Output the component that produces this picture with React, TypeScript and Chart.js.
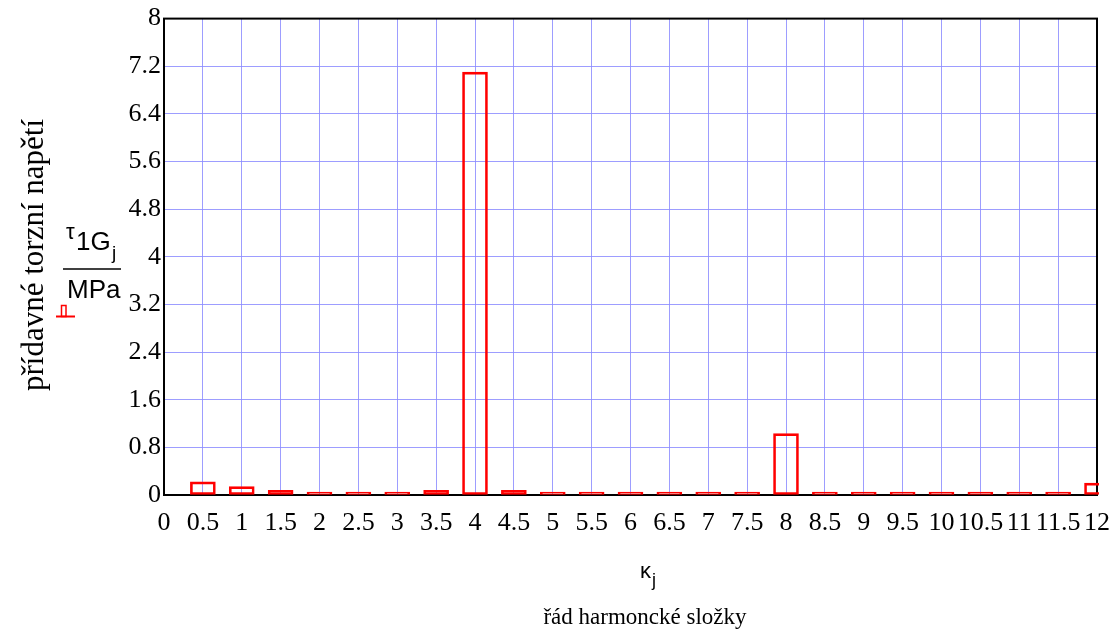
import React, { useEffect, useRef } from "react";
import { Chart, registerables } from "chart.js";

Chart.register(...registerables);

// ---- data ----
const harmonicOrders: number[] = [
  0.5, 1, 1.5, 2, 2.5, 3, 3.5, 4, 4.5, 5, 5.5, 6,
  6.5, 7, 7.5, 8, 8.5, 9, 9.5, 10, 10.5, 11, 11.5, 12,
];
const stressValues: number[] = [
  0.22, 0.14, 0.08, 0, 0, 0, 0.08, 7.1, 0.08, 0.05, 0, 0,
  0, 0, 0, 1.03, 0, 0, 0, 0, 0, 0, 0, 0.2,
];
const xMin = 0;
const xMax = 12;
const xStep = 0.5;
const yMin = 0;
const yMax = 8;
const yStep = 0.8;

const yTitle = "přídavné torzní napětí";
const xTitle = "řád harmoncké složky";
const yVarSymbol = "τ";
const yVarMain = "1G";
const yVarSub = "j";
const yUnit = "MPa";
const xVarSymbol = "κ";
const xVarSub = "j";

const SERIF = "'Liberation Serif', 'DejaVu Serif', serif";
const SANS = "'Liberation Sans', Arial, sans-serif";
const RED = "#ff0000";
const GRID = "rgba(140,140,255,0.85)";

const fmt = (v: any) => String(Math.round(Number(v) * 100) / 100);

const frameAndLabels = {
  id: "frameAndLabels",
  beforeDatasetsDraw(chart: any) {
    const { ctx, chartArea } = chart;
    ctx.save();
    ctx.strokeStyle = "#000";
    ctx.lineWidth = 2;
    ctx.strokeRect(
      chartArea.left,
      chartArea.top,
      chartArea.right - chartArea.left,
      chartArea.bottom - chartArea.top
    );
    ctx.restore();
  },
  afterDraw(chart: any) {
    const { ctx } = chart;
    ctx.save();
    // y title (rotated)
    ctx.fillStyle = "#000";
    ctx.translate(35, 255);
    ctx.rotate(-Math.PI / 2);
    ctx.font = `31px ${SERIF}`;
    ctx.textAlign = "center";
    ctx.textBaseline = "middle";
    ctx.fillText(yTitle, 0, 0);
    ctx.restore();

    ctx.save();
    ctx.fillStyle = "#000";
    ctx.textAlign = "left";
    ctx.textBaseline = "alphabetic";
    ctx.font = `22px ${SANS}`;
    ctx.fillText(yVarSymbol, 66, 239);
    ctx.font = `26px ${SANS}`;
    ctx.fillText(yVarMain, 76, 250);
    ctx.font = `19px ${SANS}`;
    ctx.fillText(yVarSub, 112, 259);
    ctx.strokeStyle = "#000";
    ctx.lineWidth = 1.5;
    ctx.beginPath();
    ctx.moveTo(63, 269);
    ctx.lineTo(121, 269);
    ctx.stroke();
    ctx.font = `26px ${SANS}`;
    ctx.fillText(yUnit, 67, 298);

    // legend symbol
    ctx.strokeStyle = RED;
    ctx.lineWidth = 2;
    ctx.beginPath();
    ctx.moveTo(56, 316.5);
    ctx.lineTo(75, 316.5);
    ctx.stroke();
    ctx.lineWidth = 1.5;
    ctx.strokeRect(61.5, 305.5, 4.5, 11);

    // x variable
    ctx.font = `22px ${SANS}`;
    ctx.fillText(xVarSymbol, 640, 578);
    ctx.font = `18px ${SANS}`;
    ctx.fillText(xVarSub, 652, 586);

    // x title
    ctx.font = `23px ${SERIF}`;
    ctx.textAlign = "center";
    ctx.fillText(xTitle, 645, 624);
    ctx.restore();
  },
};

export default function App() {
  const canvasRef = useRef<HTMLCanvasElement | null>(null);

  useEffect(() => {
    const canvas = canvasRef.current;
    if (!canvas) return;
    const points = harmonicOrders.map((x, i) => ({ x, y: stressValues[i] }));
    const chart = new Chart(canvas, {
      type: "bar",
      data: {
        datasets: [
          {
            data: points as any,
            backgroundColor: "rgba(0,0,0,0)",
            borderColor: RED,
            borderWidth: 2,
            borderSkipped: false,
            barThickness: 25,
            minBarLength: 3,
            clip: 2,
          } as any,
        ],
      },
      options: {
        responsive: false,
        animation: false,
        events: [],
        layout: { padding: { top: 15, right: 23, left: 0, bottom: 0 } },
        plugins: {
          legend: { display: false },
          tooltip: { enabled: false },
          title: { display: false },
        },
        scales: {
          x: {
            type: "linear",
            min: xMin,
            max: xMax,
            offset: false,
            border: { display: false },
            grid: { color: GRID, lineWidth: 1, drawTicks: false, offset: false },
            ticks: {
              stepSize: xStep,
              autoSkip: false,
              maxRotation: 0,
              minRotation: 0,
              color: "#000",
              padding: 13,
              font: { family: SERIF, size: 26 },
              callback: fmt,
            },
            afterFit(scale: any) {
              scale.height = 639 - 495;
              scale.paddingLeft = 0;
              scale.paddingRight = 0;
            },
          },
          y: {
            type: "linear",
            min: yMin,
            max: yMax,
            border: { display: false },
            grid: { color: GRID, lineWidth: 1, drawTicks: false },
            ticks: {
              stepSize: yStep,
              color: "#000",
              padding: 3,
              font: { family: SERIF, size: 26 },
              callback: fmt,
            },
            afterFit(scale: any) {
              scale.width = 164;
            },
          },
        },
      },
      plugins: [frameAndLabels],
    } as any);
    return () => chart.destroy();
  }, []);

  return (
    <div style={{ position: "fixed", left: 0, top: 0, width: 1120, height: 639, background: "#fff" }}>
      <canvas ref={canvasRef} width={1120} height={639} style={{ display: "block" }} />
    </div>
  );
}
